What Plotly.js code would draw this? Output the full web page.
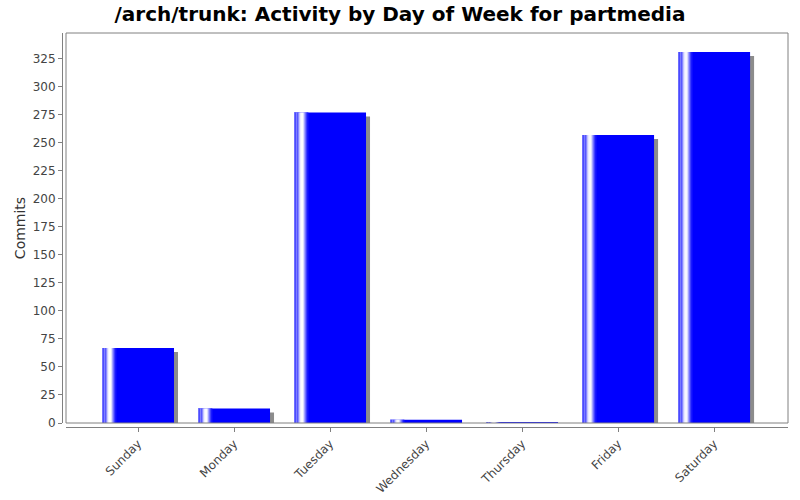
<!DOCTYPE html>
<html>
<head>
<meta charset="utf-8">
<script src="https://cdn.plot.ly/plotly-3.0.1.min.js"></script>
<style>
  html, body { margin: 0; padding: 0; background: #fff; }
  #chart { width: 800px; height: 500px; }
</style>
</head>
<body>
<div id="chart"></div>
<script>
// data
var days = ['Sunday', 'Monday', 'Tuesday', 'Wednesday', 'Thursday', 'Friday', 'Saturday'];
var commits = [67, 13, 277, 3, 1, 257, 331];
var yTicks = [0, 25, 50, 75, 100, 125, 150, 175, 200, 225, 250, 275, 300, 325];

var barW = 0.75;        // bar width in category units
var px = 1 / 96;        // one pixel in category units
var shadowDrop = 3.6;   // shadow is ~4px lower

var traces = [];

// gray drop shadow behind each bar
traces.push({
  type: 'bar', x: days, y: commits,
  base: commits.map(function () { return -shadowDrop; }),
  width: barW, offset: -barW / 2 + 4 * px,
  marker: { color: '#8c8c8c', line: { width: 0 } },
  hoverinfo: 'skip', cliponaxis: true
});

// the blue bars themselves
traces.push({
  type: 'bar', x: days, y: commits,
  width: barW, offset: -barW / 2,
  marker: { color: '#0000ff', line: { width: 0 } },
  hovertemplate: '%{x}: %{y}<extra></extra>'
});

// white highlight stripe near the left edge (fake gradient)
var glow = [0.45, 0.3, 0.5, 0.35, 0.55, 0.8, 0.95, 1, 1, 0.88, 0.65, 0.45, 0.25, 0.1];
glow.forEach(function (g, k) {
  var c = Math.round(255 * g);
  traces.push({
    type: 'bar', x: days, y: commits,
    width: 1.4 * px, offset: -barW / 2 + k * px,
    marker: { color: 'rgb(' + c + ',' + c + ',255)', line: { width: 0 } },
    hoverinfo: 'skip'
  });
});

var gray = '#808080';
var layout = {
  width: 800, height: 500,
  margin: { l: 62, r: 12, t: 33, b: 73 },
  paper_bgcolor: '#ffffff', plot_bgcolor: '#ffffff',
  showlegend: false,
  barmode: 'overlay',
  font: { family: 'DejaVu Sans, sans-serif', size: 12, color: '#444444' },
  title: {
    text: '/arch/trunk: Activity by Day of Week for partmedia',
    font: { family: 'DejaVu Sans, sans-serif', size: 20, color: '#000000', weight: 'bold' },
    x: 0.5, xanchor: 'center', y: 0.973, yanchor: 'middle'
  },
  xaxis: {
    domain: [4 / 726, 1], anchor: 'free', position: 0,
    range: [-0.75, 6.77], type: 'category',
    showline: true, linecolor: gray, linewidth: 1,
    ticks: 'outside', ticklen: 4, tickcolor: gray,
    tickangle: -45, tickfont: { size: 12, color: '#444444' },
    showgrid: false, zeroline: false, fixedrange: true
  },
  yaxis: {
    domain: [4 / 394, 1], anchor: 'free', position: 0,
    range: [0, 348],
    tickvals: yTicks, ticktext: yTicks.map(String),
    showline: true, linecolor: gray, linewidth: 1,
    ticks: 'outside', ticklen: 4, tickcolor: gray,
    tickfont: { size: 12, color: '#444444' },
    showgrid: false, zeroline: false, fixedrange: true,
    title: { text: 'Commits', font: { size: 14, color: '#333333' }, standoff: 2 }
  },
  shapes: [{
    type: 'rect', xref: 'x domain', yref: 'y domain',
    x0: 0, x1: 1, y0: 0, y1: 1,
    line: { color: gray, width: 1 }, layer: 'above'
  }]
};

Plotly.newPlot('chart', traces, layout, { displayModeBar: false, staticPlot: true });
</script>
</body>
</html>
